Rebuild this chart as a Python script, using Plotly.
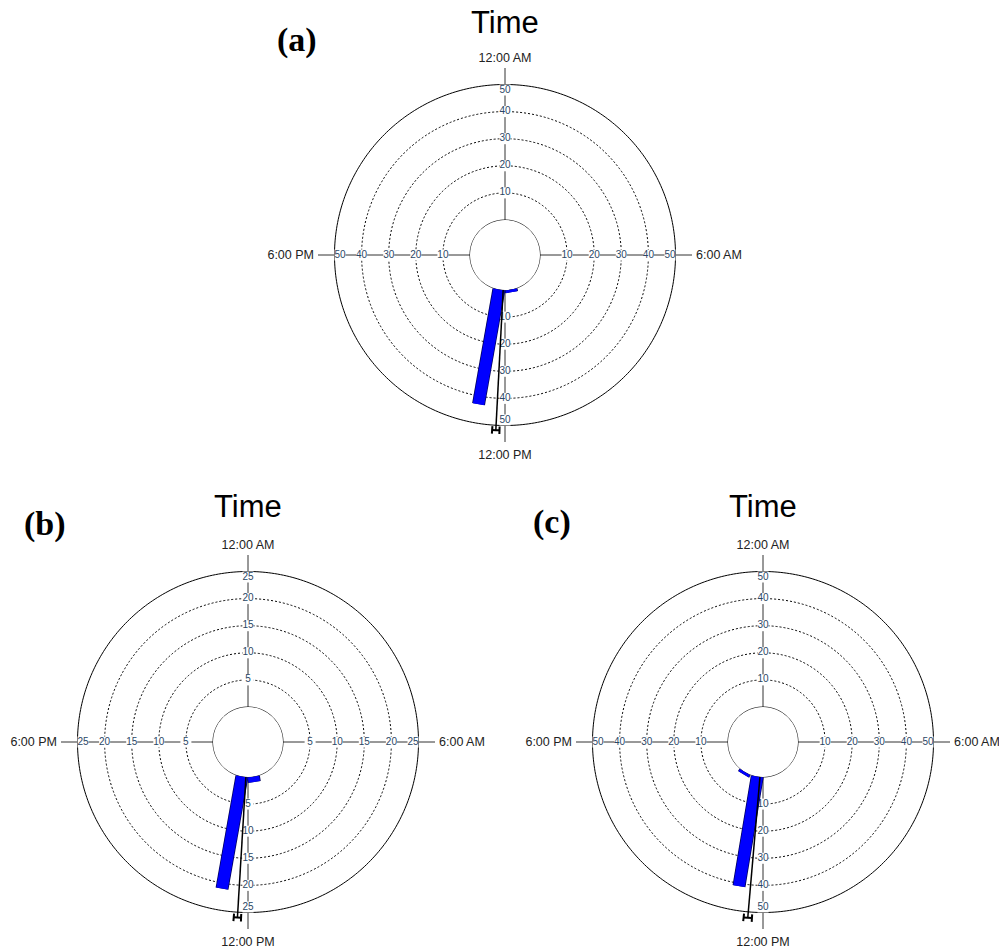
import numpy as np
import plotly.graph_objects as go

# ---------------- data (hours of day, counts) ----------------
angle_tick_hours = [0, 6, 12, 18]
angle_tick_text = ["12:00 AM", "6:00 AM", "12:00 PM", "6:00 PM"]

bar_hours_a = [11.33, 12.67]
bar_counts_a = [1, 43]
mean_hour_a = 12.2
ci_half_hours_a = 0.08
vector_len_a = 51.8
r_max_a = 50
r_ticks_a = [10, 20, 30, 40, 50]

bar_hours_b = [11.4, 12.67]
bar_counts_b = [1, 21]
mean_hour_b = 12.23
ci_half_hours_b = 0.08
vector_len_b = 26.0
r_max_b = 25
r_ticks_b = [5, 10, 15, 20, 25]

bar_hours_c = [14.07, 12.63]
bar_counts_c = [1, 41]
mean_hour_c = 12.33
ci_half_hours_c = 0.09
vector_len_c = 52.2
r_max_c = 50
r_ticks_c = [10, 20, 30, 40, 50]

panel_letters = ["(a)", "(b)", "(c)"]

# ---------------- layout geometry (page pixels) ----------------
W, H = 1007, 948
OFF = 8                       # default page body margin
centers = [(505, 255), (248, 742), (763, 742)]
R_OUT, R_HOLE, R_EXT = 170.5, 35.0, 187.0
DEG_PER_HOUR = 15.0

panels = [
    (bar_hours_a, bar_counts_a, mean_hour_a, ci_half_hours_a, vector_len_a, r_max_a, r_ticks_a),
    (bar_hours_b, bar_counts_b, mean_hour_b, ci_half_hours_b, vector_len_b, r_max_b, r_ticks_b),
    (bar_hours_c, bar_counts_c, mean_hour_c, ci_half_hours_c, vector_len_c, r_max_c, r_ticks_c),
]

LABEL_COLOR = "#2b4766"
FONT = "Arial, Liberation Sans, sans-serif"


def px(x):
    return (x - OFF) / W


def py(y):
    return 1 - (y - OFF) / H


fig = go.Figure()
layout_polars = {}
annotations = []
common = dict(hoverinfo="skip", showlegend=False, cliponaxis=False)

for i, (bh, bc, mh, cih, vlen, rmax, rticks) in enumerate(panels):
    sub = "polar" if i == 0 else f"polar{i+1}"
    cx, cy = centers[i]
    r_ext = rmax * (R_EXT - R_HOLE) / (R_OUT - R_HOLE)

    th = np.linspace(0, 360, 361)
    # hole outline
    fig.add_trace(go.Scatterpolar(r=[0] * len(th), theta=th, mode="lines",
                                  line=dict(color="black", width=1), subplot=sub, **common))
    # outer circle
    fig.add_trace(go.Scatterpolar(r=[rmax] * len(th), theta=th, mode="lines",
                                  line=dict(color="black", width=1), subplot=sub, **common))

    # radial tick labels on four axes
    lab_r = [t if t < rmax else rmax * (165 - R_HOLE) / (R_OUT - R_HOLE) for t in rticks]
    lab_t = [str(t) for t in rticks]
    for h in angle_tick_hours:
        fig.add_trace(go.Scatterpolar(
            r=lab_r, theta=[h * DEG_PER_HOUR] * len(lab_r), mode="markers+text",
            text=lab_t, textposition="middle center",
            textfont=dict(size=10, color=LABEL_COLOR, family=FONT),
            marker=dict(symbol="square", size=11, color="white", line=dict(width=0)),
            subplot=sub, **common))

    # bars (constant-width rectangles)
    for hh, cnt in zip(bh, bc):
        t = hh * DEG_PER_HOUR
        fig.add_trace(go.Scatterpolar(r=[0, cnt], theta=[t, t], mode="lines",
                                      line=dict(color="#00005a", width=13), subplot=sub, **common))
        fig.add_trace(go.Scatterpolar(r=[0, cnt], theta=[t, t], mode="lines",
                                      line=dict(color="#0000ff", width=11.5), subplot=sub, **common))

    # mean vector with confidence bracket
    mt = mh * DEG_PER_HOUR
    ct = cih * DEG_PER_HOUR
    leg = 0.028 * rmax
    fig.add_trace(go.Scatterpolar(r=[0, vlen], theta=[mt, mt], mode="lines",
                                  line=dict(color="black", width=1.5), subplot=sub, **common))
    fig.add_trace(go.Scatterpolar(r=[vlen, vlen, vlen], theta=[mt - ct, mt, mt + ct], mode="lines",
                                  line=dict(color="black", width=2), subplot=sub, **common))
    for s in (-1, 1):
        fig.add_trace(go.Scatterpolar(r=[vlen - leg, vlen + leg], theta=[mt + s * ct, mt + s * ct],
                                      mode="lines", line=dict(color="black", width=2),
                                      subplot=sub, **common))

    layout_polars[sub] = dict(
        domain=dict(x=[px(cx - R_EXT), px(cx + R_EXT)], y=[py(cy + R_EXT), py(cy - R_EXT)]),
        hole=R_HOLE / R_EXT,
        bgcolor="rgba(0,0,0,0)",
        radialaxis=dict(range=[0, r_ext], tickvals=rticks[:-1], showticklabels=False, ticks="",
                        showline=False, showgrid=True, gridcolor="black", griddash="2px,2px",
                        gridwidth=1),
        angularaxis=dict(rotation=90, direction="clockwise", tickmode="array",
                         tickvals=[h * DEG_PER_HOUR for h in angle_tick_hours],
                         ticktext=angle_tick_text, ticks="outside", ticklen=1,
                         tickcolor="rgba(0,0,0,0)",
                         tickfont=dict(size=12.5, color="#222222", family=FONT),
                         showline=False,
                         showgrid=True, gridcolor="#333333", gridwidth=1.2),
    )

title_pos = [(505, 22), (248, 507), (763, 507)]
for (tx, ty) in title_pos:
    annotations.append(dict(text="Time", x=px(tx), y=py(ty), xref="paper", yref="paper",
                            showarrow=False, font=dict(size=31, color="black", family=FONT),
                            xanchor="center", yanchor="middle", borderpad=0))

letter_pos = [(297, 40), (45, 524), (552, 522)]
for (lx, ly), txt in zip(letter_pos, panel_letters):
    annotations.append(dict(text=f"<b>{txt}</b>", x=px(lx), y=py(ly), xref="paper", yref="paper",
                            showarrow=False, xanchor="center", yanchor="middle",
                            font=dict(size=34, color="black",
                                      family="Times New Roman, Liberation Serif, serif")))

fig.update_layout(width=W, height=H, margin=dict(l=0, r=0, t=0, b=0),
                  paper_bgcolor="white", plot_bgcolor="white", showlegend=False,
                  annotations=annotations, **layout_polars)

fig.write_html("out.html")
